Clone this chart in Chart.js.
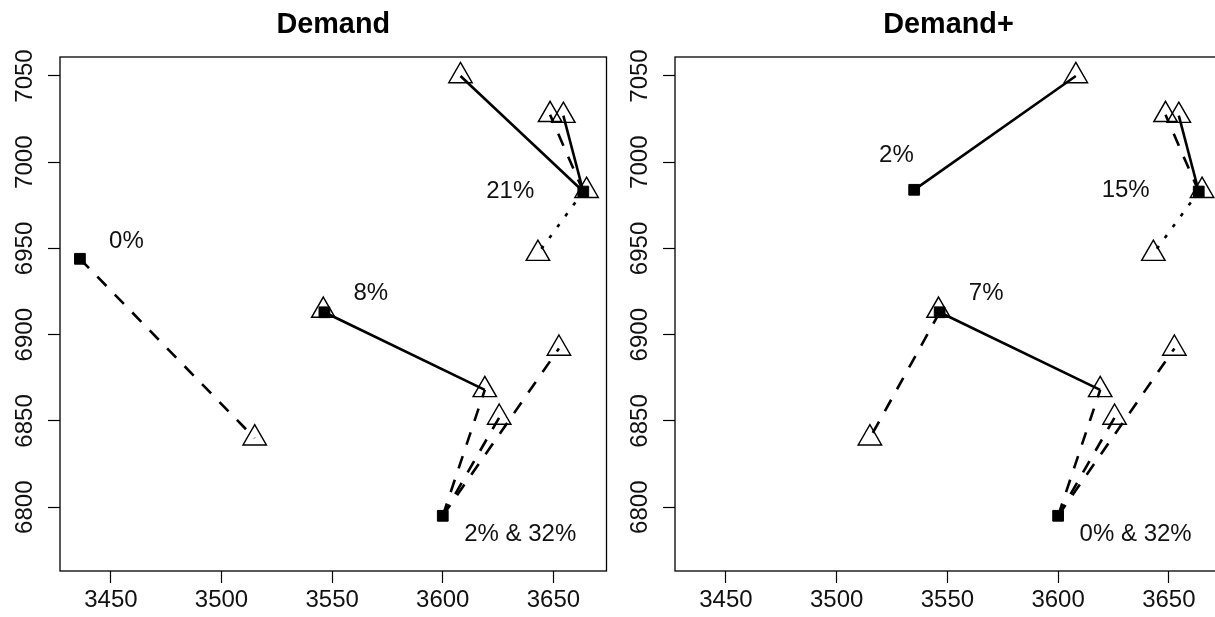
<!DOCTYPE html>
<html>
<head>
<meta charset="utf-8">
<script src="https://cdn.jsdelivr.net/npm/chart.js@4.4.1/dist/chart.umd.min.js"></script>
<style>
  html, body { margin: 0; padding: 0; background: #fff; overflow: hidden; }
  #wrap { position: relative; width: 1215px; height: 617px; overflow: hidden; }
  #leftBox { position: absolute; left: 0; top: 0; }
  #rightBox { position: absolute; left: 610px; top: 0; }
</style>
</head>
<body>
<div id="wrap">
  <div id="leftBox"><canvas id="demandChart" width="610" height="617"></canvas></div>
  <div id="rightBox"><canvas id="demandPlusChart" width="620" height="617"></canvas></div>
</div>
<script>
/* ---------- DATA ---------- */
const xTicks = [3450, 3500, 3550, 3600, 3650];
const yTicks = [6800, 6850, 6900, 6950, 7000, 7050];

// demand points (open triangles) - same set in both panels
const demandX = [3515, 3546, 3619, 3625.5, 3652.5, 3608, 3648.5, 3654.5, 3643, 3665];
const demandY = [6840, 6914, 6868, 6852, 6892, 7050, 7027.5, 7027, 6947, 6983.5];

// facilities (filled squares)
const demandFacX = [3436, 3546.5, 3600, 3663.5];
const demandFacY = [6944, 6913, 6795, 6983];
const plusFacX = [3535, 3546.5, 3600, 3663.5];
const plusFacY = [6984, 6913, 6795, 6983];

// assignments: facility index -> demand index, with line type
const demandFrom = [0, 1, 1, 2, 2, 2, 3, 3, 3, 3, 3];
const demandTo   = [0, 1, 2, 2, 3, 4, 5, 6, 7, 8, 9];
const demandLty  = ["dashed", "solid", "solid", "dashed", "dashed", "dashed", "solid", "dashed", "solid", "dotted", "solid"];

const plusFrom = [0, 1, 1, 1, 2, 2, 2, 3, 3, 3, 3];
const plusTo   = [5, 1, 0, 2, 2, 3, 4, 6, 7, 8, 9];
const plusLty  = ["solid", "solid", "dashed", "solid", "dashed", "dashed", "dashed", "dashed", "solid", "dotted", "solid"];

// share labels
const demandLabels = ["0%", "8%", "21%", "2% & 32%"];
const demandLabelX = [3457, 3567.5, 3630.5, 3635];
const demandLabelY = [6954, 6924, 6983, 6784.5];
const plusLabels = ["2%", "7%", "15%", "0% & 32%"];
const plusLabelX = [3527, 3567.5, 3630.5, 3635];
const plusLabelY = [7004, 6924, 6983.5, 6784];

/* ---------- STYLE ---------- */
const FONT = "'Liberation Sans', Arial, Helvetica, sans-serif";
const DASHES = { solid: [], dashed: [13, 12], dotted: [3.5, 10] };

/* ---------- PLUGIN: box, rotated y labels, share labels ---------- */
const plotDecor = {
    id: "plotDecor",
    afterDraw(chart, args, opts) {
        const { ctx, chartArea: a, scales } = chart;
        ctx.save();
        ctx.strokeStyle = "#000";
        ctx.lineWidth = 1.3;
        ctx.strokeRect(a.left, a.top, a.right - a.left, a.bottom - a.top);

        ctx.fillStyle = "#111";
        ctx.font = "24px " + FONT;
        ctx.textAlign = "center";
        ctx.textBaseline = "middle";
        scales.y.ticks.forEach(t => {
            const py = scales.y.getPixelForValue(t.value);
            ctx.save();
            ctx.translate(a.left - 35, py);
            ctx.rotate(-Math.PI / 2);
            ctx.fillText(String(t.value), 0, 0);
            ctx.restore();
        });

        opts.labels.forEach((s, i) => {
            ctx.fillText(
                s,
                scales.x.getPixelForValue(opts.labelX[i]),
                scales.y.getPixelForValue(opts.labelY[i])
            );
        });
        ctx.restore();
    }
};

/* ---------- BUILD ---------- */
function buildDatasets(facX, facY, from, to, lty) {
    const sets = [
        {
            data: facX.map((x, i) => ({ x, y: facY[i] })),
            pointStyle: "rect",
            pointRadius: 7.6,
            pointBackgroundColor: "#000",
            pointBorderColor: "#000",
            pointBorderWidth: 1
        },
        {
            data: demandX.map((x, i) => ({ x, y: demandY[i] })),
            pointStyle: "triangle",
            pointRadius: 13.5,
            pointBackgroundColor: "rgba(0,0,0,0)",
            pointBorderColor: "#000",
            pointBorderWidth: 1.45
        }
    ];
    from.forEach((f, i) => {
        sets.push({
            data: [
                { x: facX[f], y: facY[f] },
                { x: demandX[to[i]], y: demandY[to[i]] }
            ],
            showLine: true,
            pointRadius: 0,
            borderColor: "#000",
            borderWidth: 2.6,
            borderDash: DASHES[lty[i]],
            borderCapStyle: "butt",
            fill: false
        });
    });
    return sets;
}

function makeChart(canvasId, title, facX, facY, from, to, lty, labels, labelX, labelY, yWidth, padRight) {
    return new Chart(document.getElementById(canvasId), {
        type: "scatter",
        data: { datasets: buildDatasets(facX, facY, from, to, lty) },
        options: {
            responsive: false,
            animation: false,
            events: [],
            layout: { autoPadding: false, padding: { right: padRight } },
            plugins: {
                legend: { display: false },
                tooltip: { enabled: false },
                title: {
                    display: true,
                    text: title,
                    fullSize: false,
                    color: "#000",
                    font: { family: FONT, size: 28.8, weight: "bold", lineHeight: 1.2 },
                    padding: { top: 8, bottom: 14.44 }
                },
                plotDecor: { labels, labelX, labelY }
            },
            scales: {
                x: {
                    type: "linear",
                    min: 3427,
                    max: 3674,
                    afterBuildTicks: s => { s.ticks = xTicks.map(v => ({ value: v })); },
                    afterFit: s => {
                        s.height = 46;
                        s.paddingLeft = 0;
                        s.paddingRight = 0;
                    },
                    ticks: {
                        callback: v => String(v),
                        color: "#111",
                        padding: 3,
                        maxRotation: 0,
                        font: { family: FONT, size: 24 }
                    },
                    grid: { drawOnChartArea: false, tickLength: 12, tickColor: "#000", tickWidth: 1.2 },
                    border: { display: false }
                },
                y: {
                    type: "linear",
                    min: 6763,
                    max: 7061,
                    afterBuildTicks: s => { s.ticks = yTicks.map(v => ({ value: v })); },
                    afterFit: s => {
                        s.width = yWidth;
                        s.paddingTop = 0;
                        s.paddingBottom = 0;
                    },
                    ticks: { display: false },
                    grid: { drawOnChartArea: false, tickLength: 12, tickColor: "#000", tickWidth: 1.2 },
                    border: { display: false }
                }
            }
        },
        plugins: [plotDecor]
    });
}

makeChart("demandChart", "Demand", demandFacX, demandFacY, demandFrom, demandTo, demandLty,
    demandLabels, demandLabelX, demandLabelY, 60, 3.5);
makeChart("demandPlusChart", "Demand+", plusFacX, plusFacY, plusFrom, plusTo, plusLty,
    plusLabels, plusLabelX, plusLabelY, 65, 8);
</script>
</body>
</html>
